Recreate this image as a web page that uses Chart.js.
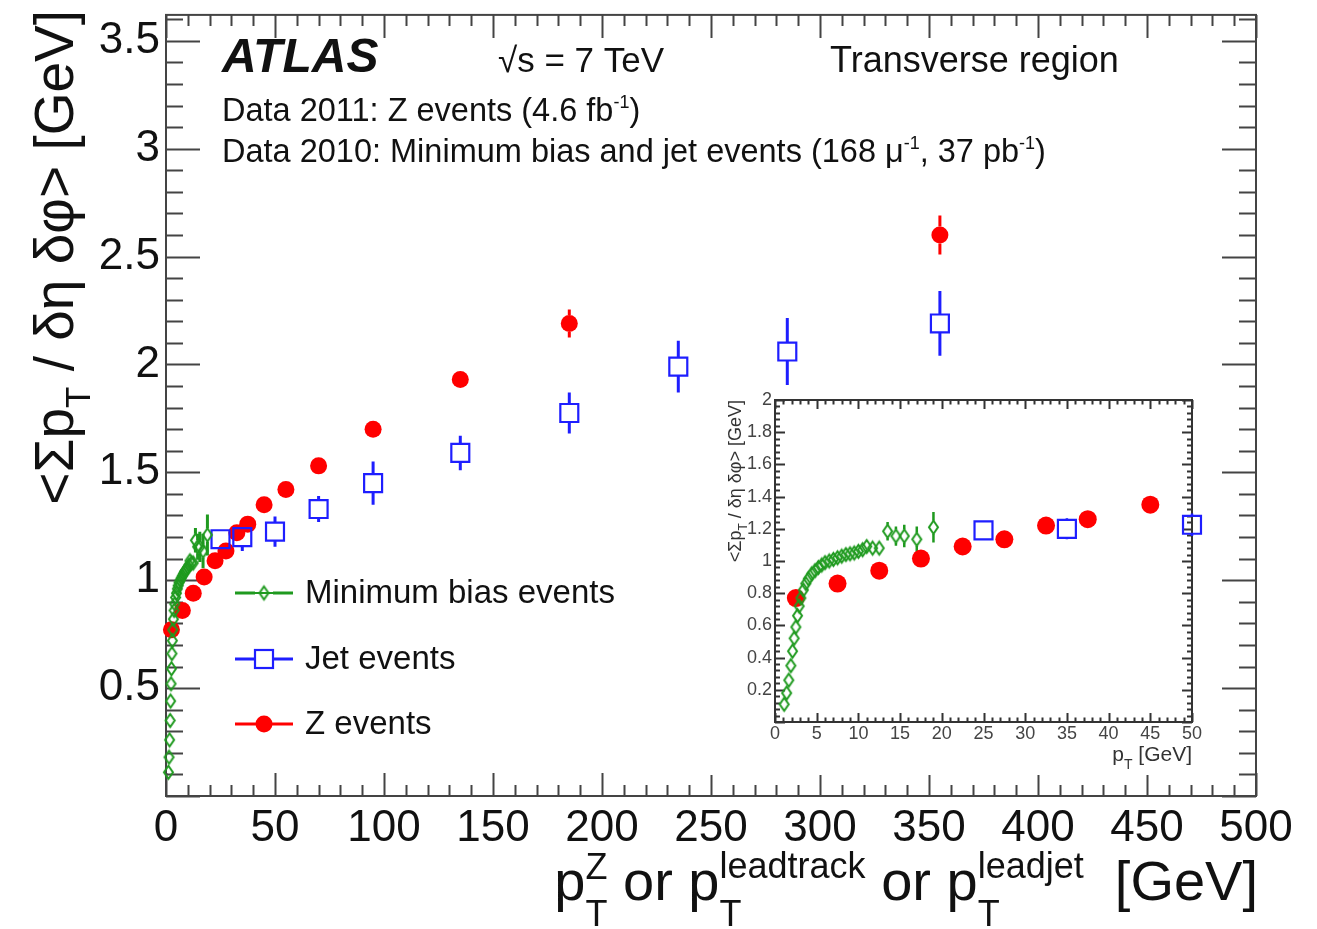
<!DOCTYPE html>
<html>
<head>
<meta charset="utf-8">
<script src="https://cdn.jsdelivr.net/npm/chart.js@4.4.1/dist/chart.umd.min.js"></script>
<style>
    body { margin: 0; background: #fff; }
    #wrap { position: relative; width: 1317px; height: 929px; }
    #main { position: absolute; left: 0; top: 0; }
    #inset { position: absolute; left: 700px; top: 385px; }
</style>
</head>
<body>
<div id="wrap">
    <canvas id="main" width="1317" height="929"></canvas>
    <canvas id="inset" width="510" height="390"></canvas>
</div>
<script>
// Z events (data 2011)
const zX   = [2.5, 7.5, 12.5, 17.5, 22.5, 27.5, 32.5, 37.5, 45, 55, 70, 95, 135, 185, 355];
const zY   = [0.77, 0.86, 0.94, 1.015, 1.09, 1.135, 1.22, 1.26, 1.35, 1.42, 1.53, 1.70, 1.93, 2.19, 2.60];
const zErr = [0.01, 0.01, 0.01, 0.01, 0.01, 0.01, 0.01, 0.01, 0.015, 0.015, 0.02, 0.025, 0.03, 0.065, 0.09];

// Jet events (data 2010)
const jetX   = [25, 35, 50, 70, 95, 135, 185, 235, 285, 355];
const jetY   = [1.19, 1.20, 1.225, 1.33, 1.45, 1.59, 1.775, 1.99, 2.06, 2.19];
const jetErr = [0.04, 0.065, 0.07, 0.06, 0.10, 0.08, 0.095, 0.12, 0.155, 0.15];

// Minimum bias events (data 2010)
const mbX = [1.1, 1.4, 1.65, 1.9, 2.1, 2.3, 2.5, 2.7, 2.9, 3.1, 3.4, 3.7, 4.0, 4.4, 4.8, 5.2, 5.6, 6.0,
             6.5, 7.0, 7.5, 8.0, 8.5, 9.0, 9.5, 10.0, 10.5, 11.0, 11.7, 12.5, 13.5, 14.5, 15.5, 17.0, 19.0];
const mbY = [0.11, 0.18, 0.26, 0.35, 0.44, 0.52, 0.59, 0.66, 0.72, 0.77, 0.82, 0.86, 0.89, 0.92, 0.94, 0.96, 0.975, 0.99,
             1.0, 1.01, 1.02, 1.03, 1.04, 1.045, 1.05, 1.06, 1.07, 1.09, 1.08, 1.08, 1.185, 1.155, 1.155, 1.135, 1.21];
const mbErr = [0.005, 0.005, 0.005, 0.005, 0.005, 0.005, 0.005, 0.005, 0.005, 0.005, 0.005, 0.005, 0.005, 0.005, 0.005, 0.005, 0.005, 0.005,
               0.005, 0.006, 0.006, 0.007, 0.008, 0.01, 0.01, 0.012, 0.015, 0.02, 0.02, 0.03, 0.057, 0.06, 0.07, 0.08, 0.095];

// axis ticks
const mainXTicks  = [0, 50, 100, 150, 200, 250, 300, 350, 400, 450, 500];
const mainYTicks  = [0.5, 1, 1.5, 2, 2.5, 3, 3.5];
const insetXTicks = [0, 5, 10, 15, 20, 25, 30, 35, 40, 45, 50];
const insetYTicks = [0.2, 0.4, 0.6, 0.8, 1, 1.2, 1.4, 1.6, 1.8, 2];

const F = '"Liberation Sans", Arial, Helvetica, sans-serif';
const RED = '#ff0000', BLUE = '#1e1eff', GREEN = '#1f9a1f';

function pts(xs, ys) {
    return xs.map((x, i) => ({ x: x, y: ys[i] }));
}

// tall open diamond used by ROOT for the minimum bias points
function makeDiamond(w, h, lw, color) {
    const c = document.createElement('canvas');
    c.width = w + lw * 2 + 2;
    c.height = h + lw * 2 + 2;
    const g = c.getContext('2d');
    const cx = c.width / 2, cy = c.height / 2;
    g.strokeStyle = color;
    g.lineWidth = lw;
    g.beginPath();
    g.moveTo(cx, cy - h / 2);
    g.lineTo(cx + w / 2, cy);
    g.lineTo(cx, cy + h / 2);
    g.lineTo(cx - w / 2, cy);
    g.closePath();
    g.stroke();
    return c;
}
const diamond = makeDiamond(9, 13, 2, GREEN);

function drawRich(ctx, parts, x, y, measureOnly) {
    let cx = x;
    parts.forEach(p => {
        if (p.t !== undefined) {
            ctx.font = (p.w || '') + ' ' + p.s + 'px ' + F;
            if (!measureOnly) ctx.fillText(p.t, cx, y - (p.up || 0));
            cx += ctx.measureText(p.t).width;
        } else {
            ctx.font = p.s + 'px ' + F;
            const w1 = p.sup ? ctx.measureText(p.sup).width : 0;
            const w2 = p.sub ? ctx.measureText(p.sub).width : 0;
            if (!measureOnly) {
                if (p.sup) ctx.fillText(p.sup, cx, y - p.upS);
                if (p.sub) ctx.fillText(p.sub, cx, y + p.down);
            }
            cx += Math.max(w1, w2);
        }
    });
    return cx - x;
}

// ROOT style frame with ticks on all four sides, inside the frame
const rootFrame = {
    id: 'rootFrame',
    beforeDatasetsDraw(chart, args, o) {
        const ctx = chart.ctx, a = chart.chartArea;
        const x = chart.scales.x, y = chart.scales.y;
        ctx.save();
        ctx.strokeStyle = o.color;
        ctx.lineWidth = o.width;
        ctx.beginPath();
        for (let i = 0; ; i++) {
            const v = x.min + i * o.xMinor;
            if (v > x.max + 1e-9) break;
            const px = Math.round(x.getPixelForValue(v)) + 0.5;
            const len = (i % o.xSub === 0) ? o.xMajLen : o.xMinLen;
            ctx.moveTo(px, a.bottom); ctx.lineTo(px, a.bottom - len);
            ctx.moveTo(px, a.top); ctx.lineTo(px, a.top + len);
        }
        for (let i = 0; ; i++) {
            const v = y.min + i * o.yMinor;
            if (v > y.max + 1e-9) break;
            const py = Math.round(y.getPixelForValue(v)) + 0.5;
            const len = (i % o.ySub === 0) ? o.yMajLen : o.yMinLen;
            ctx.moveTo(a.left, py); ctx.lineTo(a.left + len, py);
            ctx.moveTo(a.right, py); ctx.lineTo(a.right - len, py);
        }
        ctx.stroke();
        ctx.strokeRect(a.left, a.top, a.right - a.left, a.bottom - a.top);
        ctx.restore();
    }
};

// vertical error bars, not drawn inside the open markers
const errorBars = {
    id: 'errorBars',
    beforeDatasetsDraw(chart, args, o) {
        const ctx = chart.ctx, ys = chart.scales.y;
        chart.data.datasets.forEach((ds, i) => {
            const meta = chart.getDatasetMeta(i);
            ctx.save();
            ctx.strokeStyle = ds.borderColor;
            ctx.lineWidth = o.width;
            ctx.beginPath();
            meta.data.forEach((pt, j) => {
                const v = ds.data[j].y, e = ds.errs[j];
                const top = ys.getPixelForValue(v + e), bot = ys.getPixelForValue(v - e);
                if (pt.y - top > ds.gap) { ctx.moveTo(pt.x, top); ctx.lineTo(pt.x, pt.y - ds.gap); }
                if (bot - pt.y > ds.gap) { ctx.moveTo(pt.x, pt.y + ds.gap); ctx.lineTo(pt.x, bot); }
            });
            ctx.stroke();
            ctx.restore();
        });
    }
};

function datasets(sq, circ) {
    return [
        {
            label: 'Minimum bias events', data: pts(mbX, mbY), errs: mbErr, gap: 6.5,
            borderColor: GREEN, pointStyle: diamond, pointRadius: 6, clip: false
        },
        {
            label: 'Jet events', data: pts(jetX, jetY), errs: jetErr, gap: 9,
            borderColor: BLUE, pointStyle: 'rect', pointRadius: sq, pointBorderWidth: 2.2,
            pointBackgroundColor: 'rgba(0,0,0,0)', pointBorderColor: BLUE, clip: false
        },
        {
            label: 'Z events', data: pts(zX, zY), errs: zErr, gap: circ,
            borderColor: RED, pointStyle: 'circle', pointRadius: circ, pointBorderWidth: 0,
            pointBackgroundColor: RED, pointBorderColor: RED, clip: false
        }
    ];
}

// texts of the main pad
const mainTexts = {
    id: 'mainTexts',
    afterDraw(chart) {
        const ctx = chart.ctx;
        ctx.save();
        ctx.fillStyle = '#111';
        ctx.textAlign = 'left';
        ctx.textBaseline = 'alphabetic';

        ctx.font = 'italic bold 48px ' + F;
        ctx.fillText('ATLAS', 222, 72);
        ctx.font = '35px ' + F;
        ctx.fillText('\u221As = 7 TeV', 498, 72);
        ctx.font = '36px ' + F;
        ctx.fillText('Transverse region', 830, 72);

        drawRich(ctx, [{ t: 'Data 2011: Z events (4.6 fb', s: 32.5 }, { sup: '-1', s: 18, upS: 13 }, { t: ')', s: 32.5 }], 222, 121);
        drawRich(ctx, [{ t: 'Data 2010: Minimum bias and jet events (168 \u03BC', s: 32.5 }, { sup: '-1', s: 18, upS: 13 },
                       { t: ', 37 pb', s: 32.5 }, { sup: '-1', s: 18, upS: 13 }, { t: ')', s: 32.5 }], 222, 162);

        // x title
        const xt = [
            { t: 'p', s: 56 }, { sup: 'Z', sub: 'T', s: 36, upS: 21, down: 26 },
            { t: ' or p', s: 56 }, { sup: 'leadtrack', sub: 'T', s: 36, upS: 22, down: 26 },
            { t: ' or p', s: 56 }, { sup: 'leadjet', sub: 'T', s: 36, upS: 22, down: 26 },
            { t: '  [GeV]', s: 56 }
        ];
        const wx = drawRich(ctx, xt, 0, 0, true);
        drawRich(ctx, xt, 1258 - wx, 900);

        // y title
        const yt = [{ t: '<\u03A3p', s: 55 }, { sub: 'T', s: 35, down: 17 }, { t: ' / \u03B4\u03B7 \u03B4\u03C6> [GeV]', s: 55 }];
        const wy = drawRich(ctx, yt, 0, 0, true);
        ctx.translate(73, 10 + wy);
        ctx.rotate(-Math.PI / 2);
        drawRich(ctx, yt, 0, 0);
        ctx.restore();

        // legend
        ctx.save();
        const rows = [593, 659, 724];
        const dsets = chart.data.datasets;
        ctx.lineWidth = 3;
        dsets.forEach((ds, i) => {
            const yy = rows[i];
            ctx.strokeStyle = ds.borderColor;
            ctx.beginPath();
            ctx.moveTo(235, yy); ctx.lineTo(255, yy);
            ctx.moveTo(273, yy); ctx.lineTo(293, yy);
            if (i === 2) { ctx.moveTo(235, yy); ctx.lineTo(293, yy); }
            ctx.stroke();
            if (i === 0) {
                ctx.beginPath();
                ctx.moveTo(255, yy); ctx.lineTo(273, yy);
                ctx.lineWidth = 2;
                ctx.stroke();
                ctx.lineWidth = 3;
                ctx.drawImage(diamond, 264 - diamond.width / 2, yy - diamond.height / 2);
            } else if (i === 1) {
                ctx.lineWidth = 2.2;
                ctx.strokeRect(255, yy - 9, 18, 18);
                ctx.lineWidth = 3;
            } else {
                ctx.fillStyle = RED;
                ctx.beginPath();
                ctx.arc(264, yy, 8.5, 0, Math.PI * 2);
                ctx.fill();
            }
            ctx.fillStyle = '#111';
            ctx.font = '33px ' + F;
            ctx.textBaseline = 'middle';
            ctx.fillText(ds.label, 305, yy + 1);
        });
        ctx.restore();
    }
};

new Chart(document.getElementById('main'), {
    type: 'scatter',
    data: { datasets: datasets(12.7, 8.5) },
    options: {
        responsive: false,
        animation: false,
        devicePixelRatio: 1,
        events: [],
        layout: { padding: { top: 12, right: 61, left: 0, bottom: 0 } },
        plugins: {
            legend: { display: false },
            tooltip: { enabled: false },
            rootFrame: { color: '#444', width: 2, xMinor: 10, xSub: 5, yMinor: 0.1, ySub: 5,
                         xMajLen: 23, xMinLen: 11, yMajLen: 34, yMinLen: 17 },
            errorBars: { width: 3 }
        },
        scales: {
            x: {
                type: 'linear', min: 0, max: 500,
                grid: { display: false, drawTicks: false }, border: { display: false },
                ticks: { autoSkip: false, maxRotation: 0, padding: 6, color: '#111', font: { family: F, size: 44 },
                         callback: v => String(v) },
                afterBuildTicks: s => { s.ticks = mainXTicks.map(v => ({ value: v })); },
                afterFit: s => { s.height = 133; s.paddingLeft = 0; s.paddingRight = 0; }
            },
            y: {
                type: 'linear', min: 0, max: 3.62,
                grid: { display: false, drawTicks: false }, border: { display: false },
                ticks: { autoSkip: false, padding: 6, color: '#111', font: { family: F, size: 44 },
                         callback: v => String(v) },
                afterBuildTicks: s => { s.ticks = mainYTicks.map(v => ({ value: v })); },
                afterFit: s => { s.width = 166; s.paddingTop = 0; s.paddingBottom = 0; }
            }
        }
    },
    plugins: [rootFrame, errorBars, mainTexts]
});

// inset pad
const insetTexts = {
    id: 'insetTexts',
    beforeDraw(chart) {
        const ctx = chart.ctx;
        ctx.save();
        ctx.fillStyle = '#fff';
        ctx.fillRect(0, 0, chart.width, chart.height);
        ctx.restore();
    },
    afterDraw(chart) {
        const ctx = chart.ctx;
        ctx.save();
        ctx.fillStyle = '#333';
        ctx.textAlign = 'left';
        ctx.textBaseline = 'alphabetic';
        const xt = [{ t: 'p', s: 21 }, { sub: 'T', s: 14, down: 8 }, { t: ' [GeV]', s: 21 }];
        const wx = drawRich(ctx, xt, 0, 0, true);
        drawRich(ctx, xt, 492 - wx, 376);
        const yt = [{ t: '<\u03A3p', s: 18 }, { sub: 'T', s: 12, down: 6 }, { t: ' / \u03B4\u03B7 \u03B4\u03C6> [GeV]', s: 18 }];
        const wy = drawRich(ctx, yt, 0, 0, true);
        ctx.translate(41, 15 + wy);
        ctx.rotate(-Math.PI / 2);
        drawRich(ctx, yt, 0, 0);
        ctx.restore();
    }
};

new Chart(document.getElementById('inset'), {
    type: 'scatter',
    data: { datasets: datasets(12.7, 9) },
    options: {
        responsive: false,
        animation: false,
        devicePixelRatio: 1,
        events: [],
        layout: { padding: { top: 15, right: 18, left: 0, bottom: 0 } },
        plugins: {
            legend: { display: false },
            tooltip: { enabled: false },
            rootFrame: { color: '#333', width: 2, xMinor: 1, xSub: 5, yMinor: 0.04, ySub: 5,
                         xMajLen: 9, xMinLen: 4.5, yMajLen: 10, yMinLen: 5 },
            errorBars: { width: 2.5 }
        },
        scales: {
            x: {
                type: 'linear', min: 0, max: 50,
                grid: { display: false, drawTicks: false }, border: { display: false },
                ticks: { autoSkip: false, maxRotation: 0, padding: 1, color: '#444', font: { family: F, size: 18 },
                         callback: v => String(v) },
                afterBuildTicks: s => { s.ticks = insetXTicks.map(v => ({ value: v })); },
                afterFit: s => { s.height = 53; s.paddingLeft = 0; s.paddingRight = 0; }
            },
            y: {
                type: 'linear', min: 0, max: 2,
                grid: { display: false, drawTicks: false }, border: { display: false },
                ticks: { autoSkip: false, padding: 3, color: '#444', font: { family: F, size: 18 },
                         callback: v => String(v) },
                afterBuildTicks: s => { s.ticks = insetYTicks.map(v => ({ value: v })); },
                afterFit: s => { s.width = 75; s.paddingTop = 0; s.paddingBottom = 0; }
            }
        }
    },
    plugins: [rootFrame, errorBars, insetTexts]
});
</script>
</body>
</html>
